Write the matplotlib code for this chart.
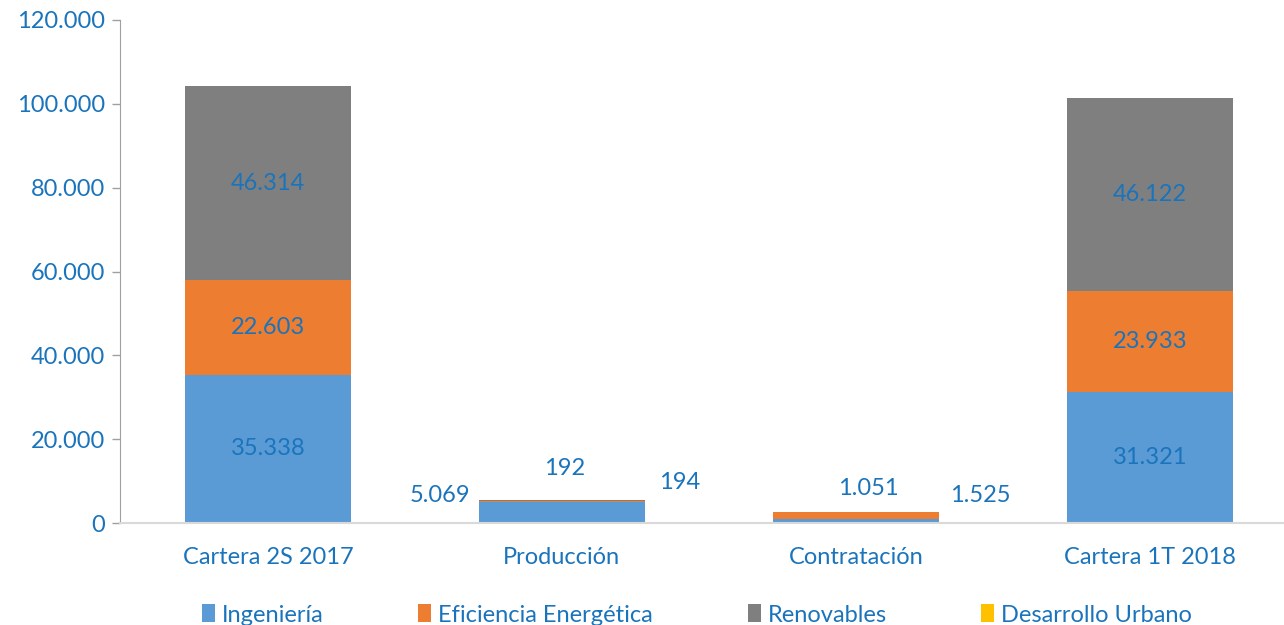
import matplotlib.pyplot as plt
from matplotlib.patches import Patch
import numpy as np

plt.rcParams['font.family'] = ['Lato', 'DejaVu Sans']

categorias = ['Cartera 2S 2017', 'Producción', 'Contratación', 'Cartera 1T 2018']
series = ['Ingeniería', 'Eficiencia Energética', 'Renovables', 'Desarrollo Urbano']
ingenieria = [35338, 5069, 1051, 31321]
eficiencia = [22603, 192, 1525, 23933]
renovables = [46314, 194, 0, 46122]
desarrollo = [0, 0, 0, 0]
colores = ['#5B9BD5', '#ED7D31', '#7F7F7F', '#FFC000']
azul = '#1A74BC'
fs = 17

def fmt(v):
    # formato español con punto de miles
    return f'{v:,.0f}'.replace(',', '.')

fig = plt.figure(figsize=(12.84, 6.25), dpi=100)
ax = fig.add_axes([120 / 1284, 1 - 523 / 625, 1 - 120 / 1284, (523 - 20) / 625])

x = np.arange(len(categorias))
ancho = 0.565
base = np.zeros(len(categorias))
barras = []
for vals, col in zip([ingenieria, eficiencia, renovables, desarrollo], colores):
    b = ax.bar(x, vals, ancho, bottom=base, color=col, zorder=2)
    barras.append((b, np.array(vals), base.copy()))
    base += np.array(vals)

# etiquetas dentro de las barras grandes
for b, vals, bot in barras[:3]:
    for i in [0, 3]:
        if vals[i] > 0:
            ax.text(x[i], bot[i] + vals[i] / 2, fmt(vals[i]), ha='center', va='center',
                    color=azul, fontsize=fs)

# etiquetas de las barras pequeñas, movidas a mano (como en Excel), desplazamiento en px
desplaz = {
    (0, 1): (-122, 5), (1, 1): (3, 32), (2, 1): (118, 18),
    (0, 2): (12, 24), (1, 2): (124, 17),
}
for (s, i), (dx, dy) in desplaz.items():
    b, vals, bot = barras[s]
    ax.annotate(fmt(vals[i]), (x[i], base[i]), xytext=(dx * 0.72, dy * 0.72),
                textcoords='offset points', ha='center', va='center',
                color=azul, fontsize=fs)

ax.set_xlim(-0.503, 3.456)
ax.set_ylim(0, 120000)
ax.set_yticks(np.arange(0, 120001, 20000))
ax.set_yticklabels([fmt(v) for v in np.arange(0, 120001, 20000)])
ax.set_xticks(x)
ax.set_xticklabels(categorias)
ax.tick_params(axis='y', colors='#A0A0A0', labelcolor=azul, labelsize=fs, length=6, width=1, pad=5)
ax.tick_params(axis='x', length=0, labelcolor=azul, labelsize=fs, pad=17)
for s in ['top', 'right']:
    ax.spines[s].set_visible(False)
ax.spines['left'].set_color('#A0A0A0')
ax.spines['bottom'].set_color('#D9D9D9')
ax.spines['bottom'].set_linewidth(1.5)

handles = [Patch(facecolor=c, edgecolor='none') for c in colores]
fig.legend(handles, series, loc='lower center', bbox_to_anchor=(0.543, -0.035), ncol=4,
           frameon=False, fontsize=fs, labelcolor=azul, handlelength=0.55, handleheight=0.8,
           handletextpad=0.3, columnspacing=4.0)

fig.savefig('out.png', dpi=100)
